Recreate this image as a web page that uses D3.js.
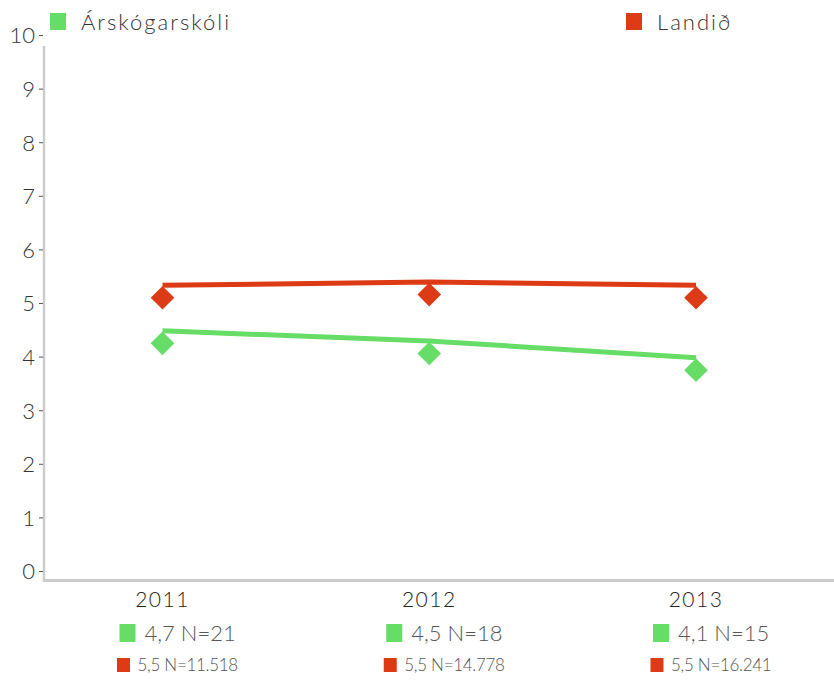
<!DOCTYPE html>
<html>
<head>
<meta charset="utf-8">
<script src="https://cdn.jsdelivr.net/npm/d3@7"></script>
<style>
  body { margin: 0; background: #fff; }
  svg { display: block; font-family: Lato, "Open Sans", sans-serif; font-weight: 300; }
  .tick text { fill: #333; font-size: 22px; }
</style>
</head>
<body>
<svg id="chart" width="834" height="680"></svg>
<script>
"use strict";

// Years on the x axis
const years = ["2011", "2012", "2013"];

// Series names and line values (as drawn)
const seriesNames = ["Árskógarskóli", "Landið"];
const schoolValues = [4.48, 4.29, 3.98];
const countryValues = [5.33, 5.39, 5.33];

// Annotation labels under each year
const schoolLabels = ["4,7 N=21", "4,5 N=18", "4,1 N=15"];
const countryLabels = ["5,5 N=11.518", "5,5 N=14.778", "5,5 N=16.241"];

const yTicks = [0, 1, 2, 3, 4, 5, 6, 7, 8, 9, 10];

const green = "#66dd66";
const red = "#dd3b16";

const svg = d3.select("#chart");

const x = d3.scalePoint()
    .domain(years)
    .range([162.5, 696]);

const y = d3.scaleLinear()
    .domain([0, 10])
    .range([571, 35]);

// Axis frame
svg.append("line")
    .attr("x1", 44).attr("x2", 44)
    .attr("y1", 46).attr("y2", 582)
    .style("stroke", "#cccccc")
    .style("stroke-width", 2.5);

svg.append("line")
    .attr("x1", 43).attr("x2", 834)
    .attr("y1", 580.5).attr("y2", 580.5)
    .style("stroke", "#cccccc")
    .style("stroke-width", 3);

// Y axis ticks
const yAxis = svg.append("g")
    .attr("transform", "translate(43,0)")
    .call(d3.axisLeft(y).tickValues(yTicks).tickSize(4).tickPadding(4))
    .attr("font-family", null)
    .attr("font-size", null);

yAxis.select(".domain").remove();
yAxis.selectAll(".tick line").style("stroke", "#555");
yAxis.selectAll(".tick text").attr("dy", "0.36em");

// Year labels
svg.selectAll(".year")
    .data(years)
  .enter().append("text")
    .attr("class", "year")
    .attr("x", d => x(d))
    .attr("y", 607)
    .attr("text-anchor", "middle")
    .style("font-size", "21px")
    .style("letter-spacing", "1.5px")
    .style("fill", "#222")
    .text(d => d);

// Lines and diamonds
const series = [
  {name: seriesNames[0], values: schoolValues, color: green},
  {name: seriesNames[1], values: countryValues, color: red}
];

const line = d3.line()
    .x((d, i) => x(years[i]))
    .y(d => y(d));

const diamond = "M0,-11.8L11.8,0L0,11.8L-11.8,0Z";

series.forEach(s => {
  svg.append("path")
      .datum(s.values)
      .attr("d", line)
      .style("fill", "none")
      .style("stroke", s.color)
      .style("stroke-width", 5);

  svg.selectAll(null)
      .data(s.values)
    .enter().append("path")
      .attr("d", diamond)
      .attr("transform", (d, i) => "translate(" + x(years[i]) + "," + (y(d) + 12.5) + ")")
      .style("fill", s.color);
});

// Top legend
const legend = [
  {name: seriesNames[0], color: green, x: 50},
  {name: seriesNames[1], color: red, x: 626}
];

legend.forEach(l => {
  svg.append("rect")
      .attr("x", l.x).attr("y", 13)
      .attr("width", 16).attr("height", 17)
      .style("fill", l.color);
  svg.append("text")
      .attr("x", l.x + 31)
      .attr("y", 30)
      .style("font-size", "22px")
      .style("letter-spacing", "2px")
      .style("fill", "#333")
      .text(l.name);
});

// Annotations under the years
years.forEach((yr, i) => {
  const cx = x(yr);

  svg.append("rect")
      .attr("x", cx - 43).attr("y", 624)
      .attr("width", 16).attr("height", 18)
      .style("fill", green);
  svg.append("text")
      .attr("x", cx - 18)
      .attr("y", 641)
      .style("font-size", "22px")
      .style("fill", "#555")
      .text(schoolLabels[i]);

  svg.append("rect")
      .attr("x", cx - 45.5).attr("y", 658)
      .attr("width", 13).attr("height", 14)
      .style("fill", red);
  svg.append("text")
      .attr("x", cx - 25)
      .attr("y", 671)
      .style("font-size", "17px")
      .style("letter-spacing", "-0.3px")
      .style("fill", "#555")
      .text(countryLabels[i]);
});
</script>
</body>
</html>
